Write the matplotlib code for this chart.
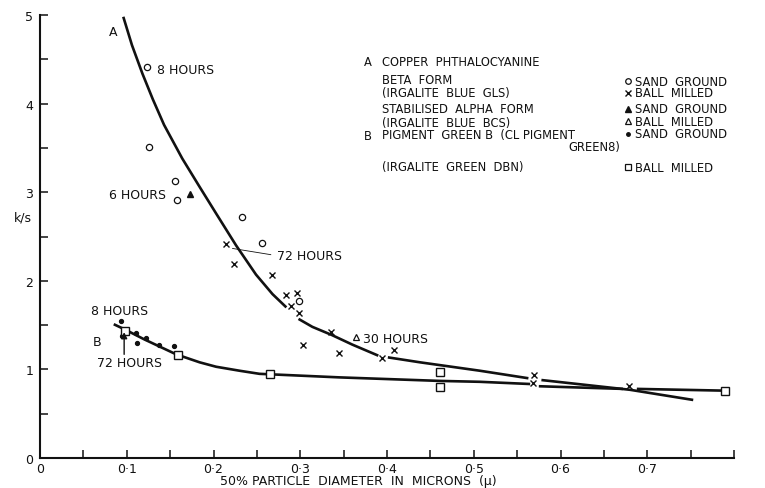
import matplotlib
matplotlib.use("Agg")
import matplotlib.pyplot as plt

plt.rcParams['font.family'] = ['DejaVu Sans']
plt.rcParams['font.size'] = 9

W, H = 765, 489
INK = '#111111'
KEY_SIZE = 8.3

# A: copper phthalocyanine, beta form, sand ground (open circles)
a_sand_x = [0.123, 0.126, 0.156, 0.158, 0.233, 0.256, 0.298]
a_sand_y = [4.41, 3.51, 3.13, 2.91, 2.72, 2.43, 1.77]

# A: beta form, ball milled (crosses)
a_ball_x = [0.214, 0.224, 0.268, 0.284, 0.296, 0.289, 0.298, 0.336, 0.303,
            0.345, 0.394, 0.408, 0.569, 0.568, 0.679]
a_ball_y = [2.42, 2.19, 2.07, 1.84, 1.86, 1.72, 1.64, 1.42, 1.28,
            1.18, 1.13, 1.22, 0.94, 0.85, 0.81]

# A: stabilised alpha form
alpha_sand_x = [0.173]
alpha_sand_y = [2.98]
alpha_ball_x = [0.364]
alpha_ball_y = [1.37]

# B: pigment green, sand ground (dots)
b_sand_x = [0.093, 0.094, 0.111, 0.112, 0.122, 0.137, 0.155]
b_sand_y = [1.55, 1.38, 1.41, 1.30, 1.35, 1.27, 1.26]

# B: ball milled (squares)
b_ball_x = [0.098, 0.159, 0.265, 0.461, 0.461, 0.790]
b_ball_y = [1.43, 1.16, 0.95, 0.97, 0.80, 0.76]

# hand drawn curves, broken where they pass marks
curve_a = [
    ([0.096, 0.106, 0.118, 0.130, 0.143, 0.164, 0.184, 0.203, 0.226, 0.249, 0.268, 0.284],
     [4.98, 4.66, 4.34, 4.05, 3.76, 3.38, 3.06, 2.76, 2.40, 2.07, 1.85, 1.70]),
    ([0.298, 0.314, 0.336, 0.360, 0.390],
     [1.57, 1.48, 1.39, 1.28, 1.155]),
    ([0.401, 0.438, 0.507, 0.563],
     [1.136, 1.08, 0.985, 0.90]),
    ([0.578, 0.680, 0.753],
     [0.88, 0.77, 0.655]),
]
curve_b = [
    ([0.085, 0.098, 0.120, 0.157, 0.184, 0.203, 0.230, 0.253, 0.345, 0.461, 0.507, 0.565],
     [1.51, 1.45, 1.34, 1.17, 1.08, 1.03, 0.985, 0.95, 0.91, 0.87, 0.86, 0.835]),
    ([0.575, 0.672],
     [0.81, 0.78]),
    ([0.688, 0.790],
     [0.78, 0.76]),
]

x_ticks = [i * 0.05 for i in range(17)]
x_labels = ['0', '', '0·1', '', '0·2', '', '0·3', '', '0·4', '', '0·5', '', '0·6', '', '0·7', '', '']
y_ticks = [i * 0.5 for i in range(11)]
y_labels = ['0', '', '1', '', '2', '', '3', '', '4', '', '5']


def fxy(px, py):
    return px / W, 1 - py / H


fig = plt.figure(figsize=(W / 100, H / 100), dpi=100)
ax = fig.add_axes([40 / W, 30 / H, (734 - 40) / W, (459 - 16) / H])
ax.set_xlim(0, 0.8)
ax.set_ylim(0, 5)

for s in ['top', 'right']:
    ax.spines[s].set_visible(False)
for s in ['left', 'bottom']:
    ax.spines[s].set_linewidth(1.5)
    ax.spines[s].set_color(INK)

ax.set_xticks(x_ticks)
ax.set_xticklabels(x_labels)
ax.set_yticks(y_ticks)
ax.set_yticklabels(y_labels)
ax.tick_params(direction='in', length=6, width=1.1, color=INK, labelcolor=INK, labelsize=9)
ax.tick_params(axis='x', pad=3)
ax.tick_params(axis='y', pad=5)

for xs, ys in curve_a + curve_b:
    ax.plot(xs, ys, color=INK, lw=1.9, solid_capstyle='butt', zorder=2)

mk = dict(linestyle='none', color=INK, clip_on=False, zorder=3)
ax.plot(a_sand_x, a_sand_y, marker='o', ms=4.5, mfc='white', mec=INK, mew=0.9, **mk)
ax.plot(a_ball_x, a_ball_y, marker='x', ms=4.8, mew=1.0, **mk)
ax.plot(alpha_sand_x, alpha_sand_y, marker='^', ms=5, mfc=INK, mec=INK, **mk)
ax.plot(alpha_ball_x, alpha_ball_y, marker='^', ms=4.5, mfc='white', mec=INK, mew=0.9, **mk)
ax.plot(b_sand_x, b_sand_y, marker='o', ms=2.8, mfc=INK, mec=INK, **mk)
ax.plot(b_ball_x, b_ball_y, marker='s', ms=5.5, mfc='white', mec=INK, mew=1.0, **mk)

# labels on the curves
ax.text(0.084, 4.81, 'A', ha='center', va='center', color=INK)
ax.text(0.135, 4.39, '8 HOURS', ha='left', va='center', color=INK)
ax.text(0.080, 2.97, '6 HOURS', ha='left', va='center', color=INK)
ax.text(0.273, 2.29, '72 HOURS', ha='left', va='center', color=INK)
ax.plot([0.222, 0.266], [2.365, 2.295], color=INK, lw=0.6, zorder=2)
ax.text(0.372, 1.35, '30 HOURS', ha='left', va='center', color=INK)
ax.text(0.059, 1.66, '8 HOURS', ha='left', va='center', color=INK)
ax.text(0.066, 1.31, 'B', ha='center', va='center', color=INK)
ax.text(0.066, 1.08, '72 HOURS', ha='left', va='center', color=INK)
ax.annotate('', xy=(0.097, 1.42), xytext=(0.097, 1.17),
            arrowprops=dict(arrowstyle='-|>', lw=1.0, color=INK, mutation_scale=9,
                            shrinkA=0, shrinkB=0))

# axis titles
fig.text(*fxy(23, 218), 'k/s', ha='center', va='center', color=INK)
fig.text(*fxy(358, 482), '50% PARTICLE  DIAMETER  IN  MICRONS  (μ)',
         ha='center', va='center', color=INK)

# key, left column
key_left = [
    (62, 'COPPER  PHTHALOCYANINE'),
    (80, 'BETA  FORM'),
    (93, '(IRGALITE  BLUE  GLS)'),
    (110, 'STABILISED  ALPHA  FORM'),
    (123, '(IRGALITE  BLUE  BCS)'),
    (136, 'PIGMENT  GREEN B  (CL PIGMENT'),
    (168, '(IRGALITE  GREEN  DBN)'),
]
for py, txt in key_left:
    fig.text(*fxy(382, py), txt, ha='left', va='center', color=INK, fontsize=KEY_SIZE)
fig.text(*fxy(368, 62), 'A', ha='center', va='center', color=INK, fontsize=KEY_SIZE)
fig.text(*fxy(368, 136), 'B', ha='center', va='center', color=INK, fontsize=KEY_SIZE)
fig.text(*fxy(620, 148), 'GREEN8)', ha='right', va='center', color=INK, fontsize=KEY_SIZE)

# key, right column
key_right = [
    (82, 'o', dict(ms=4, mfc='white', mew=0.9), 'SAND  GROUND'),
    (94, 'x', dict(ms=4, mew=1.0), 'BALL  MILLED'),
    (110, '^', dict(ms=4.5, mfc=INK), 'SAND  GROUND'),
    (122, '^', dict(ms=4, mfc='white', mew=0.9), 'BALL  MILLED'),
    (135, 'o', dict(ms=2.5, mfc=INK), 'SAND  GROUND'),
    (168, 's', dict(ms=4.5, mfc='white', mew=0.9), 'BALL  MILLED'),
]
for py, m, st, txt in key_right:
    fx, fy = fxy(628, py)
    ax.plot([fx], [fy], marker=m, color=INK, mec=INK, linestyle='none',
            transform=fig.transFigure, clip_on=False, **st)
    fig.text(*fxy(635, py), txt, ha='left', va='center', color=INK, fontsize=KEY_SIZE)

fig.savefig('out.png', dpi=100, facecolor='white')
